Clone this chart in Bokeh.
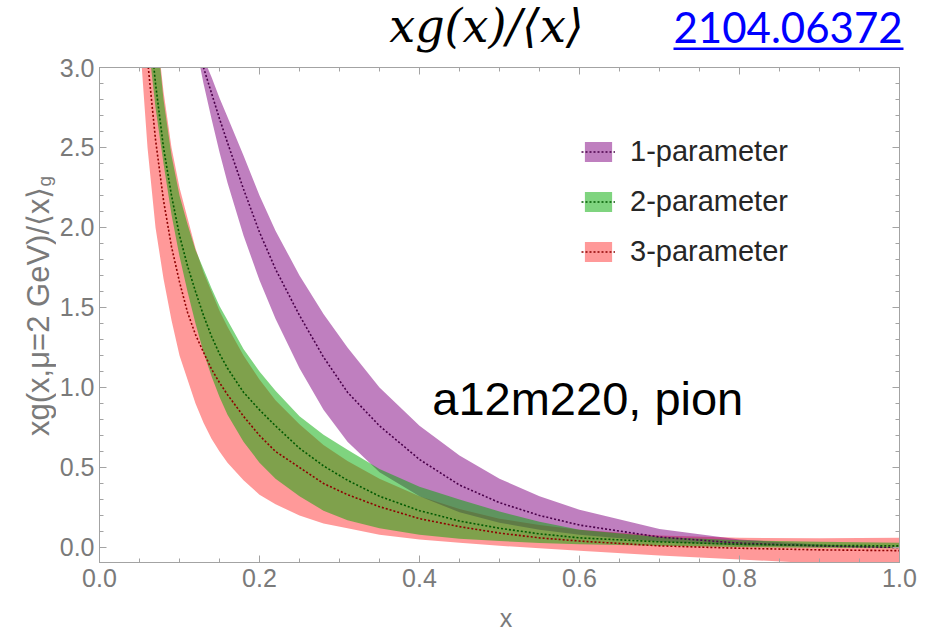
import math
from bokeh.plotting import figure
from bokeh.layouts import column, row
from bokeh.models import (Range1d, LinearAxis, SingleIntervalTicker, PrintfTickFormatter,
                          CustomJSTickFormatter, Label, Legend, LegendItem)
from bokeh.core.properties import value
from bokeh.embed import file_html
from bokeh.resources import INLINE

# ---------------- data ----------------
x_vals = [0.04, 0.05, 0.06, 0.07, 0.08, 0.09, 0.10, 0.11, 0.12, 0.13, 0.14, 0.15, 0.16,
          0.18, 0.20, 0.22, 0.25, 0.28, 0.31, 0.35, 0.40, 0.45, 0.50, 0.55, 0.60,
          0.70, 0.80, 0.90, 1.00]

# 3-parameter (red)
p3_lower = [4.4, 3.2, 2.5, 2.0, 1.68, 1.42, 1.2, 1.05, 0.9, 0.78, 0.68, 0.60, 0.53,
            0.42, 0.33, 0.27, 0.20, 0.15, 0.12, 0.08, 0.05, 0.03, 0.01, -0.005, -0.02,
            -0.05, -0.075, -0.10, -0.12]
p3_center = [5.0, 3.8, 3.05, 2.55, 2.17, 1.88, 1.66, 1.47, 1.33, 1.22, 1.115, 1.03, 0.955,
             0.82, 0.70, 0.60, 0.50, 0.40, 0.33, 0.255, 0.18, 0.13, 0.09, 0.06, 0.04,
             0.01, -0.005, -0.015, -0.02]
p3_upper = [6.5, 5.0, 4.0, 3.3, 2.85, 2.5, 2.25, 2.06, 1.87, 1.72, 1.6, 1.48, 1.38,
            1.2, 1.05, 0.92, 0.77, 0.64, 0.54, 0.43, 0.32, 0.24, 0.18, 0.14, 0.11,
            0.075, 0.06, 0.058, 0.06]

# 2-parameter (green)
p2_lower = [4.8, 3.8, 3.2, 2.75, 2.4, 2.08, 1.82, 1.6, 1.4, 1.22, 1.07, 0.94, 0.83,
            0.66, 0.53, 0.43, 0.32, 0.23, 0.17, 0.12, 0.08, 0.055, 0.04, 0.028, 0.02,
            0.01, 0.003, -0.002, -0.005]
p2_center = [5.3, 4.17, 3.41, 2.9, 2.5, 2.2, 1.95, 1.76, 1.6, 1.45, 1.32, 1.21, 1.12,
             0.97, 0.86, 0.76, 0.62, 0.51, 0.42, 0.32, 0.23, 0.165, 0.12, 0.085, 0.06,
             0.035, 0.02, 0.013, 0.01]
p2_upper = [7.0, 5.2, 4.0, 3.3, 2.8, 2.45, 2.2, 2.02, 1.86, 1.74, 1.62, 1.51, 1.42,
            1.24, 1.1, 0.98, 0.82, 0.705, 0.61, 0.49, 0.38, 0.30, 0.225, 0.16, 0.11,
            0.065, 0.045, 0.035, 0.03]

# 1-parameter (purple)
p1_lower = [4.6, 4.5, 4.4, 4.2, 4.0, 3.8, 3.6, 3.4, 3.15, 2.9, 2.68, 2.47, 2.28,
            1.95, 1.67, 1.43, 1.12, 0.86, 0.66, 0.47, 0.32, 0.22, 0.155, 0.11, 0.08,
            0.035, 0.013, 0.004, 0.0]
p1_center = [5.0, 4.8, 4.6, 4.3, 4.1, 3.85, 3.6, 3.4, 3.2, 3.0, 2.84, 2.68, 2.53,
             2.24, 1.97, 1.74, 1.45, 1.19, 0.97, 0.76, 0.55, 0.39, 0.28, 0.20, 0.14,
             0.065, 0.027, 0.009, 0.0]
p1_upper = [5.2, 5.0, 4.8, 4.5, 4.2, 3.9, 3.65, 3.45, 3.25, 3.06, 2.94, 2.81, 2.69,
            2.45, 2.2, 1.98, 1.7, 1.46, 1.25, 1.0, 0.76, 0.575, 0.43, 0.32, 0.235,
            0.115, 0.05, 0.018, 0.0]

series_labels = ["1-parameter", "2-parameter", "3-parameter"]
title_text = "xg(x)/⟨x⟩"
ref_text = "2104.06372"
y_title = "xg(x,μ=2 GeV)/⟨x⟩"
y_title_sub = "g"
x_title = "x"
note_text = "a12m220, pion"

GRAY = "#a3a3a3"
LABEL_GRAY = "#7a7a7a"
W, H = 928, 634
TITLE_H = 53           # strip above the plot
YL_W = 56              # strip left of the plot
XL_H = 34              # strip below the plot
ROW_H = H - TITLE_H
MAIN_W = W - YL_W
MAIN_H = ROW_H - XL_H
BASE_SHIFT = 0.35      # alphabetic-baseline correction (fraction of font size)


def bare_fig(w, h):
    f = figure(width=w, height=h, output_backend="svg", toolbar_location=None,
               x_range=Range1d(0, w), y_range=Range1d(0, h),
               x_axis_location=None, y_axis_location=None,
               min_border=0, min_border_left=0, min_border_right=0,
               min_border_top=0, min_border_bottom=0)
    f.outline_line_color = None
    f.grid.visible = False
    f.background_fill_color = "white"
    f.border_fill_color = "white"
    return f


# ---------------- title strip ----------------
title_fig = bare_fig(W, TITLE_H)
title_fig.text(x=[486], y=[TITLE_H - (42 - BASE_SHIFT * 46)], text=[title_text],
               text_font=value("DejaVu Serif"), text_font_style="italic",
               text_font_size="46px", text_color="black",
               text_align="center", text_baseline="alphabetic")
title_fig.text(x=[673], y=[TITLE_H - (42 - BASE_SHIFT * 42)], text=[ref_text],
               text_font=value("Lato"), text_font_size="42px", text_color="#0000ff",
               text_align="left", text_baseline="alphabetic")
title_fig.quad(left=[673], right=[903], bottom=[TITLE_H - 49.5], top=[TITLE_H - 47],
               fill_color="#0000ff", line_color=None)

# ---------------- y title strip ----------------
ylab_fig = bare_fig(YL_W, ROW_H)
ylab_fig.text(x=[38], y=[H - 186], text=[y_title], angle=math.pi / 2,
              text_font=value("Liberation Sans"), text_font_size="31px",
              text_color=LABEL_GRAY, text_align="right", text_baseline="middle")
ylab_fig.text(x=[44], y=[H - 186], text=[y_title_sub], angle=math.pi / 2,
              text_font=value("Liberation Sans"), text_font_size="19px",
              text_color=LABEL_GRAY, text_align="left", text_baseline="middle")

# ---------------- x title strip ----------------
xlab_fig = bare_fig(MAIN_W, XL_H)
xlab_fig.text(x=[499 - YL_W], y=[H - (626 - BASE_SHIFT * 25)], text=[x_title],
              text_font=value("Liberation Sans"), text_font_size="25px",
              text_color=LABEL_GRAY, text_align="center", text_baseline="alphabetic")

# ---------------- main plot ----------------
p = figure(width=MAIN_W, height=MAIN_H, output_backend="svg", toolbar_location=None,
           x_range=Range1d(0.0, 1.0), y_range=Range1d(-0.094, 3.0),
           x_axis_location=None, y_axis_location=None,
           min_border_left=99 - YL_W, min_border_right=29,
           min_border_top=67 - TITLE_H, min_border_bottom=TITLE_H + MAIN_H - 562)
p.outline_line_color = GRAY
p.background_fill_color = "white"
p.border_fill_color = "white"
p.grid.visible = False


def style_axis(ax, show_labels):
    ax.axis_line_color = GRAY
    ax.major_tick_line_color = GRAY
    ax.minor_tick_line_color = GRAY
    ax.major_tick_in = 7
    ax.major_tick_out = 0
    ax.minor_tick_in = 4
    ax.minor_tick_out = 0
    if show_labels:
        ax.major_label_text_font = "Liberation Sans"
        ax.major_label_text_font_size = "25px"
        ax.major_label_text_color = LABEL_GRAY
    else:
        ax.formatter = CustomJSTickFormatter(code="return ''")
        ax.major_label_text_font_size = "1px"
        ax.major_label_standoff = 0


xt = dict(interval=0.2, num_minor_ticks=4)
yt = dict(interval=0.5, num_minor_ticks=5)

ax_b = LinearAxis(ticker=SingleIntervalTicker(**xt), formatter=PrintfTickFormatter(format="%.1f"))
style_axis(ax_b, True)
ax_b.major_label_standoff = 6
p.add_layout(ax_b, "below")

ax_l = LinearAxis(ticker=SingleIntervalTicker(**yt), formatter=PrintfTickFormatter(format="%.1f"))
style_axis(ax_l, True)
ax_l.major_label_standoff = 5
p.add_layout(ax_l, "left")

ax_t = LinearAxis(ticker=SingleIntervalTicker(**xt))
style_axis(ax_t, False)
p.add_layout(ax_t, "above")

ax_r = LinearAxis(ticker=SingleIntervalTicker(**yt))
style_axis(ax_r, False)
p.add_layout(ax_r, "right")

band_red = p.varea(x=x_vals, y1=p3_lower, y2=p3_upper, fill_color="#ff0000", fill_alpha=0.4)
band_pur = p.varea(x=x_vals, y1=p1_lower, y2=p1_upper, fill_color="#800080", fill_alpha=0.5)
band_grn = p.varea(x=x_vals, y1=p2_lower, y2=p2_upper, fill_color="#00aa00", fill_alpha=0.5)

line_red = p.line(x_vals, p3_center, line_color="#8f0000", line_dash="2 2", line_width=1.6)
line_pur = p.line(x_vals, p1_center, line_color="#4a004a", line_dash="2 2", line_width=1.6)
line_grn = p.line(x_vals, p2_center, line_color="#005a00", line_dash="2 2", line_width=1.6)

legend = Legend(items=[
    LegendItem(label=series_labels[0], renderers=[band_pur, line_pur]),
    LegendItem(label=series_labels[1], renderers=[band_grn, line_grn]),
    LegendItem(label=series_labels[2], renderers=[band_red, line_red]),
], location=(482, 294))
legend.background_fill_alpha = 0
legend.border_line_alpha = 0
legend.padding = 0
legend.margin = 0
legend.glyph_width = 34
legend.glyph_height = 25
legend.label_height = 25
legend.spacing = 17
legend.label_standoff = 15
legend.label_text_font = "Liberation Sans"
legend.label_text_font_size = "29px"
legend.label_text_color = "#262626"
p.add_layout(legend)

p.add_layout(Label(x=0.416, y=0.93, text=note_text, text_font="Liberation Sans",
                   text_font_size="47px", text_color="black", text_align="left",
                   text_baseline="alphabetic"))

layout = column(title_fig, row(ylab_fig, column(p, xlab_fig)))

open("out.html", "w").write(file_html(layout, INLINE))
